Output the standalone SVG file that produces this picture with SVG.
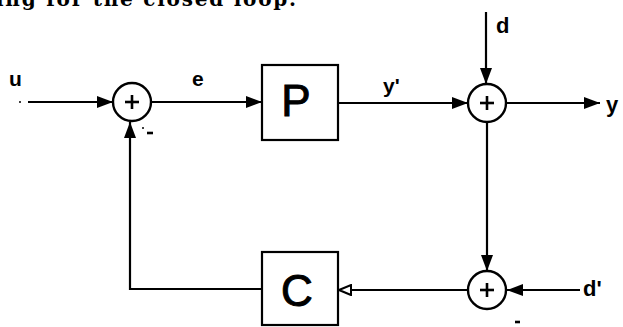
<svg xmlns="http://www.w3.org/2000/svg" width="623" height="327" viewBox="0 0 623 327">
<style>
.ln{stroke:#000;stroke-width:2.2;fill:none}
.sj{stroke:#000;stroke-width:2.4;fill:#fff}
.bx{stroke:#000;stroke-width:2.2;fill:#fff}
.lb{font-family:"Liberation Sans",Arial,sans-serif;font-weight:bold;fill:#000}
.big{font-family:"Liberation Sans",Arial,sans-serif;font-size:44px;fill:#000;stroke:#000;stroke-width:1}
.plus{stroke:#000;stroke-width:2.6}
</style>
<defs>
<marker id="ah" markerWidth="16" markerHeight="12" refX="16" refY="6" orient="auto" markerUnits="userSpaceOnUse">
<path d="M0,0 L16,6 L0,12 Z" fill="#000"/>
</marker>
<marker id="ao" markerWidth="14" markerHeight="12" refX="13" refY="6" orient="auto" markerUnits="userSpaceOnUse">
<path d="M1,1 L13,6 L1,11 Z" fill="#fff" stroke="#000" stroke-width="2"/>
</marker>
</defs>
<text x="-4" y="6" style="font-family:'DejaVu Serif',serif;font-weight:bold;font-size:20px" textLength="300">ing for the closed loop.</text>
<g id="connectors">
<circle cx="20" cy="102" r="1" fill="#000"/>
<line class="ln" x1="28" y1="102" x2="113" y2="102" marker-end="url(#ah)"/>
<line class="ln" x1="151" y1="102" x2="262" y2="102" marker-end="url(#ah)"/>
<line class="ln" x1="338" y1="103" x2="468" y2="103" marker-end="url(#ah)"/>
<line class="ln" x1="486" y1="12" x2="486" y2="84" marker-end="url(#ah)"/>
<line class="ln" x1="506" y1="103" x2="600" y2="103" marker-end="url(#ah)"/>
<line class="ln" x1="487" y1="122" x2="487" y2="271" marker-end="url(#ah)"/>
<line class="ln" x1="580" y1="290" x2="507" y2="290" marker-end="url(#ah)"/>
<line class="ln" x1="467" y1="290" x2="339" y2="290" marker-end="url(#ao)"/>
<polyline class="ln" points="262,289 130,289 130,122" marker-end="url(#ah)"/>
</g>
<g id="sum1">
<circle class="sj" cx="132" cy="102" r="19"/>
<line class="plus" x1="125" y1="102" x2="139" y2="102"/>
<line class="plus" x1="132" y1="95" x2="132" y2="109"/>
<circle cx="143" cy="128" r="1" fill="#000"/>
<line class="plus" x1="147" y1="133" x2="153" y2="133"/>
</g>
<g id="P">
<rect class="bx" x="262" y="65" width="76" height="75"/>
<text class="big" x="296" y="116" text-anchor="middle">P</text>
</g>
<g id="sum2">
<circle class="sj" cx="487" cy="103" r="19"/>
<line class="plus" x1="480" y1="103" x2="494" y2="103"/>
<line class="plus" x1="487" y1="96" x2="487" y2="110"/>
</g>
<g id="sum3">
<circle class="sj" cx="487" cy="290" r="19"/>
<line class="plus" x1="480" y1="290" x2="494" y2="290"/>
<line class="plus" x1="487" y1="283" x2="487" y2="297"/>
<line class="plus" x1="515" y1="322" x2="520" y2="322"/>
</g>
<g id="C">
<rect class="bx" x="262" y="252" width="76" height="73"/>
<text class="big" x="297" y="306" text-anchor="middle">C</text>
</g>
<g id="labels">
<text class="lb" x="9" y="86" font-size="21">u</text>
<text class="lb" x="192" y="86" font-size="21">e</text>
<text class="lb" x="383" y="93" font-size="21">y'</text>
<text class="lb" x="496" y="33" font-size="22">d</text>
<text class="lb" x="606" y="112" font-size="22">y</text>
<text class="lb" x="583" y="296" font-size="22">d'</text>
</g>
</svg>
